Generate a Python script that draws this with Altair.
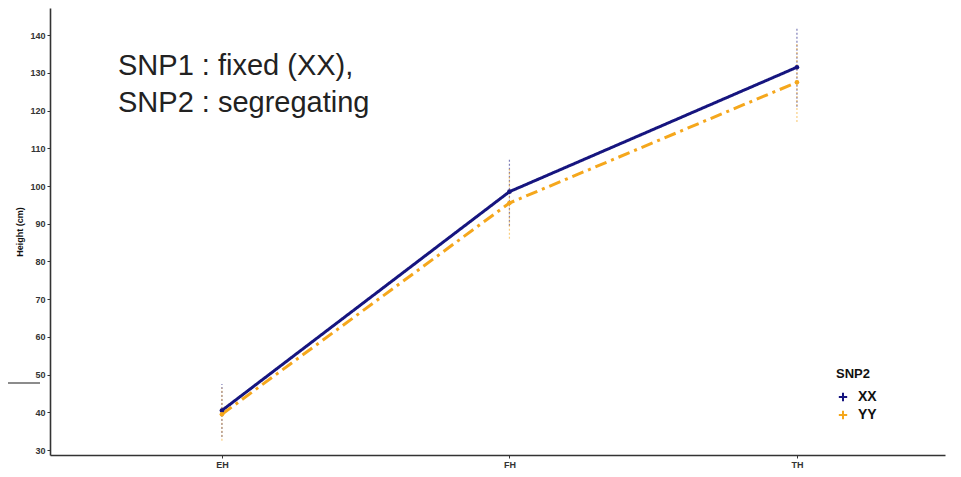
import altair as alt
import pandas as pd

stages = ["EH", "FH", "TH"]
stage_idx = [0, 1, 2]
genotypes = ["XX", "YY"]
xx_mean = [40.5, 98.5, 131.5]
yy_mean = [39.5, 95.5, 127.5]
xx_lo = [33.5, 89.5, 121.0]
xx_hi = [47.5, 107.5, 142.0]
yy_lo = [32.5, 86.0, 117.0]
yy_hi = [46.5, 104.5, 138.0]
y_ticks = [30, 40, 50, 60, 70, 80, 90, 100, 110, 120, 130, 140]
note_lines = ["SNP1 : fixed (XX),", "SNP2 : segregating"]

rows = []
for g, m, lo, hi in [("XX", xx_mean, xx_lo, xx_hi), ("YY", yy_mean, yy_lo, yy_hi)]:
    for i, s in enumerate(stages):
        rows.append({"snp": g, "stage": s, "idx": stage_idx[i], "mean": m[i], "lo": lo[i], "hi": hi[i]})
df = pd.DataFrame(rows)

FONT = "Liberation Sans"
colors = ["#16157f", "#f5a71c"]

color = alt.Color(
    "snp:N",
    scale=alt.Scale(domain=genotypes, range=colors),
    legend=alt.Legend(
        title="SNP2",
        orient="none",
        legendX=786,
        legendY=360,
        titleFont=FONT,
        titleFontSize=13,
        titleFontWeight="bold",
        titleColor="#111",
        titlePadding=9,
        labelFont=FONT,
        labelFontSize=14,
        labelFontWeight="bold",
        labelColor="#111",
        labelOffset=8,
        symbolType="M-1,0H1M0,-1V1",
        symbolSize=70,
        symbolStrokeWidth=2,
        symbolOpacity=1,
        rowPadding=0,
    ),
)

xenc = alt.X(
    "idx:Q",
    scale=alt.Scale(domain=[-0.598, 2.515], nice=False, zero=False),
    axis=alt.Axis(
        title=None,
        values=stage_idx,
        labelExpr="['EH','FH','TH'][datum.value]",
        grid=False,
        tickSize=3,
        tickColor="#333",
        domainColor="#333",
        domainWidth=1.6,
        labelFont=FONT,
        labelFontSize=9,
        labelFontWeight="bold",
        labelColor="#333",
        labelPadding=2,
    ),
)
yscale = alt.Scale(domain=[28.7, 147.2], nice=False, zero=False)
yaxis = alt.Axis(
    title="Height (cm)",
    values=y_ticks,
    grid=False,
    tickSize=3,
    tickColor="#333",
    domainColor="#333",
    domainWidth=1.6,
    labelFont=FONT,
    labelFontSize=9,
    labelFontWeight="bold",
    labelColor="#333",
    labelPadding=2,
    titleFont=FONT,
    titleFontSize=9,
    titleFontWeight="bold",
    titleColor="#111",
    titlePadding=5,
)

base = alt.Chart(df)

errbars = base.mark_rule(strokeWidth=1.2, strokeDash=[2, 2], opacity=0.55).encode(
    x=xenc,
    y=alt.Y("lo:Q", scale=yscale, axis=yaxis),
    y2="hi:Q",
    color=color,
)

lines = base.mark_line(strokeWidth=3).encode(
    x=xenc,
    y=alt.Y("mean:Q", scale=yscale, axis=yaxis),
    color=color,
    strokeDash=alt.StrokeDash(
        "snp:N",
        scale=alt.Scale(domain=genotypes, range=[[1, 0], [12, 5, 3, 5]]),
        legend=None,
    ),
)

points = base.mark_point(filled=True, size=22, opacity=1).encode(
    x=xenc,
    y=alt.Y("mean:Q", scale=yscale, axis=yaxis),
    color=color,
)

one = alt.Data(values=[{}])
note1 = alt.Chart(one).mark_text(
    text=note_lines[0], font=FONT, fontSize=29, align="left", baseline="middle", color="#222"
).encode(x=alt.value(68), y=alt.value(58))
note2 = alt.Chart(one).mark_text(
    text=note_lines[1], font=FONT, fontSize=29, align="left", baseline="middle", color="#222"
).encode(x=alt.value(68), y=alt.value(95))

deco = alt.Chart(one).mark_rule(color="#666", strokeWidth=1.5).encode(
    x=alt.value(-42), x2=alt.value(-10), y=alt.value(375)
)

chart = (
    alt.layer(errbars, lines, points, note1, note2, deco)
    .properties(
        width=895,
        height=447,
        autosize=alt.AutoSizeParams(type="none"),
        padding={"left": 42, "top": 0, "right": 8, "bottom": 14},
        background="white",
    )
    .configure_view(stroke=None)
)

chart.save("out.html", embed_options={"renderer": "svg", "actions": False})
